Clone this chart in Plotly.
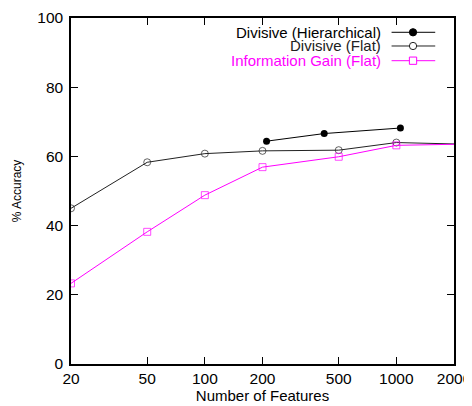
import plotly.graph_objects as go

features_hier = [210, 420, 1050]
acc_hier = [64.4, 66.6, 68.2]

features_flat = [20, 50, 100, 200, 500, 1000, 2000]
acc_div_flat = [45.0, 58.3, 60.8, 61.6, 61.8, 64.0, 63.6]
acc_ig_flat = [23.3, 38.2, 48.8, 56.9, 59.9, 63.2, 63.5]

x_ticks = [20, 50, 100, 200, 500, 1000, 2000]
y_ticks = [0, 20, 40, 60, 80, 100]

series_names = ["Divisive (Hierarchical)", "Divisive (Flat)", "Information Gain (Flat)"]

FONT = "Liberation Sans, Arial, sans-serif"

fig = go.Figure()
sizes_flat = [7] * (len(features_flat) - 1) + [0]

fig.add_trace(go.Scatter(x=features_flat, y=acc_div_flat, mode="lines+markers",
                         line=dict(color="#222222", width=1),
                         marker=dict(symbol="circle-open", size=sizes_flat, color="#222222", line=dict(width=1)),
                         showlegend=False))
fig.add_trace(go.Scatter(x=features_flat, y=acc_ig_flat, mode="lines+markers",
                         line=dict(color="#ff00ff", width=1),
                         marker=dict(symbol="square-open", size=sizes_flat, color="#ff00ff", line=dict(width=1)),
                         showlegend=False))
fig.add_trace(go.Scatter(x=features_hier, y=acc_hier, mode="lines+markers",
                         line=dict(color="black", width=1),
                         marker=dict(symbol="circle", size=7, color="black"),
                         showlegend=False))

# Custom legend (text right-aligned, sample on the right)
leg_colors = ["black", "#222222", "#ff00ff"]
leg_y = [0.9587, 0.9191, 0.8766]
for name, col, y in zip(series_names, leg_colors, leg_y):
    fig.add_annotation(xref="paper", yref="paper", x=0.812, y=y, text=name, showarrow=False,
                       xanchor="right", yanchor="middle", font=dict(size=15, color=col, family=FONT),
                       borderpad=0)
    fig.add_shape(type="line", xref="paper", yref="paper", x0=0.837, x1=0.951, y0=y, y1=y,
                  line=dict(color=col, width=1))
r = 0.0095
ry = r * 383 / 346
mx = 0.893
y = leg_y[0]
fig.add_shape(type="circle", xref="paper", yref="paper", x0=mx - r, x1=mx + r, y0=y - ry, y1=y + ry,
              fillcolor="black", line=dict(color="black", width=1))
y = leg_y[1]
fig.add_shape(type="circle", xref="paper", yref="paper", x0=mx - r, x1=mx + r, y0=y - ry, y1=y + ry,
              fillcolor="white", line=dict(color="#222222", width=1))
y = leg_y[2]
fig.add_shape(type="rect", xref="paper", yref="paper", x0=mx - r, x1=mx + r, y0=y - ry, y1=y + ry,
              fillcolor="white", line=dict(color="#ff00ff", width=1))

# page body has an 8px margin, so the figure is shifted by (8, 8)
fig.update_layout(
    width=464, height=398,
    margin=dict(l=63, r=18, t=10, b=42, autoexpand=False),
    paper_bgcolor="white", plot_bgcolor="white",
    font=dict(family=FONT, size=15.5, color="black"),
    xaxis=dict(type="log", range=[1.30103, 3.30103], tickvals=x_ticks, ticktext=[str(v) for v in x_ticks],
               ticks="inside", ticklen=7, tickcolor="black", showline=True, linecolor="black", linewidth=1.5,
               mirror="ticks", showgrid=False, zeroline=False, automargin=False, ticklabeloverflow="allow",
               title=dict(text="Number of Features", font=dict(size=15), standoff=2)),
    yaxis=dict(range=[0, 100], tickvals=y_ticks, ticks="inside", ticklen=7, tickcolor="black",
               showline=True, linecolor="black", linewidth=1.5, mirror="ticks", showgrid=False, zeroline=False,
               automargin=False, ticklabelstandoff=3,
               title=dict(text="% Accuracy", font=dict(size=12), standoff=13)),
)

fig.write_html("out.html")
